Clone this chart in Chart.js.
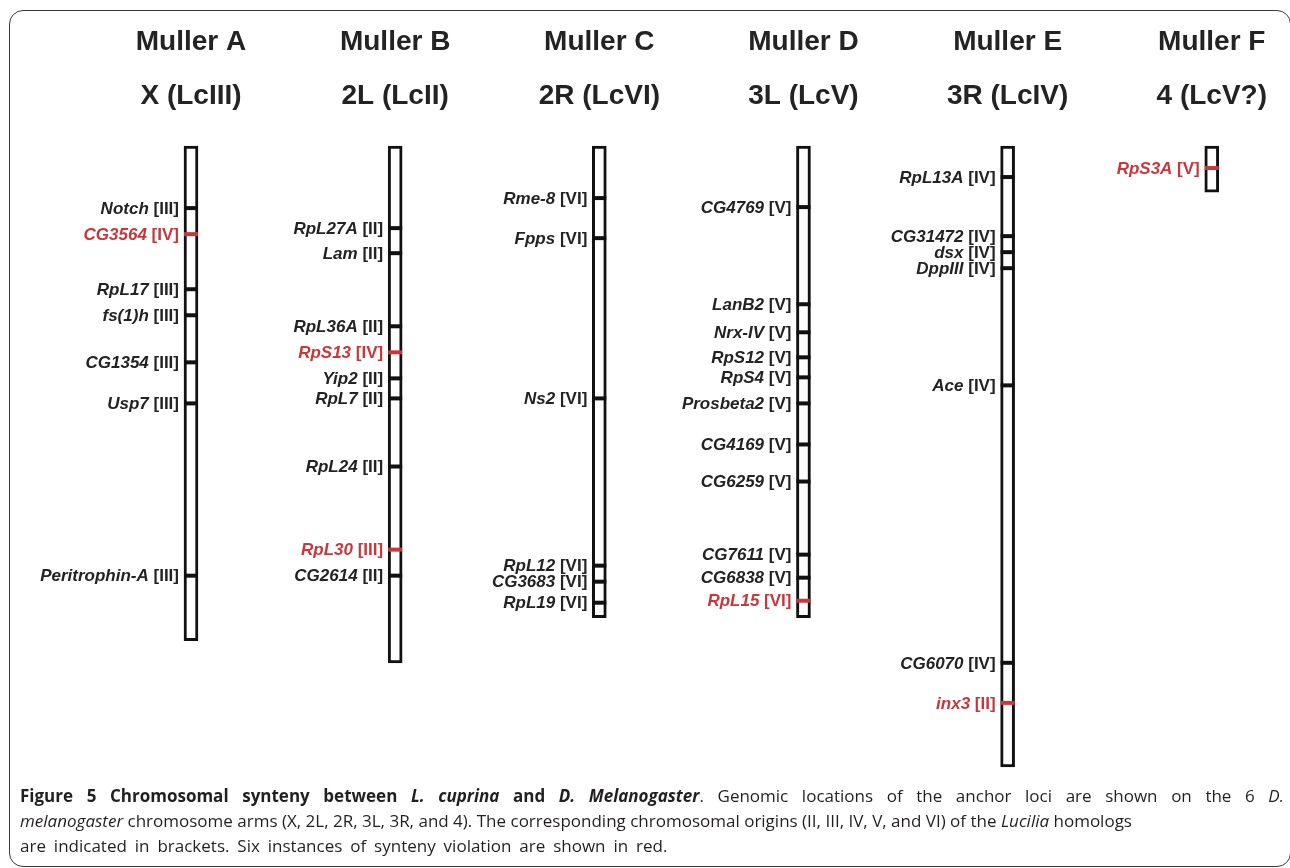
<!DOCTYPE html>
<html>
<head>
<meta charset="utf-8">
<script src="https://cdn.jsdelivr.net/npm/chart.js@4/dist/chart.umd.min.js"></script>
<style>
  html, body { margin: 0; padding: 0; background: #fff; }
  body { width: 1290px; height: 868px; position: relative; overflow: hidden; }
  #frame {
    position: absolute; left: 9px; top: 10px; width: 1280px; height: 855px;
    border: 1.5px solid #3a3a3a; border-radius: 14px;
  }
  #chart { position: absolute; left: 0; top: 0; }
  #caption {
    position: absolute; left: 20px; top: 783px; width: 1264px;
    font-family: "Open Sans", sans-serif; font-size: 17px; line-height: 25px; color: #231f20;
  }
  #caption div { white-space: nowrap; }
  #caption .fill { text-align: justify; text-align-last: justify; }
  #caption .last { word-spacing: 3.5px; }
</style>
</head>
<body>
<div id="frame"></div>
<canvas id="chart" width="1290" height="792"></canvas>
<div id="caption">
  <div class="fill"><b>Figure 5 Chromosomal synteny between <i>L. cuprina</i> and <i>D. Melanogaster</i></b>. Genomic locations of the anchor loci are shown on the 6 <i>D.</i></div>
  <div><i>melanogaster</i> chromosome arms (X, 2L, 2R, 3L, 3R, and 4). The corresponding chromosomal origins (II, III, IV, V, and VI) of the <i>Lucilia</i> homologs</div>
  <div class="last">are indicated in brackets. Six instances of synteny violation are shown in red.</div>
</div>
<script>
// Muller elements and their D. melanogaster arm (Lucilia chromosome)
const arms = ['Muller A', 'Muller B', 'Muller C', 'Muller D', 'Muller E', 'Muller F'];
const armNames = ['X (LcIII)', '2L (LcII)', '2R (LcVI)', '3L (LcV)', '3R (LcIV)', '4 (LcV?)'];
const armLengths = [494, 516, 471, 471, 620, 46];

// anchor loci, position measured from the top of each arm
const genesA = ['Notch', 'CG3564', 'RpL17', 'fs(1)h', 'CG1354', 'Usp7', 'Peritrophin-A'];
const posA = [62, 88, 143, 169, 216, 257, 429];
const originA = ['III', 'IV', 'III', 'III', 'III', 'III', 'III'];

const genesB = ['RpL27A', 'Lam', 'RpL36A', 'RpS13', 'Yip2', 'RpL7', 'RpL24', 'RpL30', 'CG2614'];
const posB = [82, 107, 180, 206, 232, 252, 320, 403, 429];
const originB = ['II', 'II', 'II', 'IV', 'II', 'II', 'II', 'III', 'II'];

const genesC = ['Rme-8', 'Fpps', 'Ns2', 'RpL12', 'CG3683', 'RpL19'];
const posC = [52, 92, 252, 419, 435, 456];
const originC = ['VI', 'VI', 'VI', 'VI', 'VI', 'VI'];

const genesD = ['CG4769', 'LanB2', 'Nrx-IV', 'RpS12', 'RpS4', 'Prosbeta2', 'CG4169', 'CG6259', 'CG7611', 'CG6838', 'RpL15'];
const posD = [61, 158, 186, 211, 231, 257, 298, 335, 408, 431, 454];
const originD = ['V', 'V', 'V', 'V', 'V', 'V', 'V', 'V', 'V', 'V', 'VI'];

const genesE = ['RpL13A', 'CG31472', 'dsx', 'DppIII', 'Ace', 'CG6070', 'inx3'];
const posE = [31, 90, 106, 122, 239, 516, 556];
const originE = ['IV', 'IV', 'IV', 'IV', 'IV', 'IV', 'II'];

const genesF = ['RpS3A'];
const posF = [22];
const originF = ['V'];

// the six synteny violations
const violations = ['CG3564', 'RpS13', 'RpL30', 'RpL15', 'inx3', 'RpS3A'];

const INK = '#232323';
const RED = '#c8373a';
const LABEL_FONT = '17px "Liberation Sans", Arial, sans-serif';

const perArm = [
    [genesA, posA, originA],
    [genesB, posB, originB],
    [genesC, posC, originC],
    [genesD, posD, originD],
    [genesE, posE, originE],
    [genesF, posF, originF]
];

const loci = [];
perArm.forEach(([genes, pos, origin], i) => {
    genes.forEach((g, j) => {
        loci.push({ x: arms[i], y: pos[j], gene: g, origin: origin[j] });
    });
});

// gene name (italic) + origin in brackets, right aligned left of the arm
const locusLabels = {
    id: 'locusLabels',
    afterDatasetsDraw(chart) {
        const ctx = chart.ctx;
        const meta = chart.getDatasetMeta(1);
        const data = chart.data.datasets[1].data;
        ctx.save();
        ctx.textBaseline = 'middle';
        ctx.textAlign = 'left';
        meta.data.forEach((pt, i) => {
            const d = data[i];
            const tag = ' [' + d.origin + ']';
            ctx.font = 'bold ' + LABEL_FONT;
            const wTag = ctx.measureText(tag).width;
            ctx.font = 'italic bold ' + LABEL_FONT;
            const wGene = ctx.measureText(d.gene).width;
            const right = pt.x - 12;
            ctx.fillStyle = violations.includes(d.gene) ? RED : INK;
            ctx.fillText(d.gene, right - wTag - wGene, pt.y + 1);
            ctx.font = 'bold ' + LABEL_FONT;
            ctx.fillText(tag, right - wTag, pt.y + 1);
        });
        ctx.restore();
    }
};

new Chart(document.getElementById('chart').getContext('2d'), {
    type: 'bar',
    data: {
        labels: arms,
        datasets: [
            {
                label: 'Chromosome arm',
                data: armLengths.map(l => [0, l]),
                backgroundColor: '#ffffff',
                borderColor: '#111111',
                borderWidth: 3,
                borderSkipped: false,
                barThickness: 14,
                clip: false,
                order: 2
            },
            {
                type: 'scatter',
                label: 'Anchor loci',
                data: loci,
                pointStyle: 'line',
                pointRadius: 7,
                pointHoverRadius: 7,
                pointBorderWidth: 4,
                pointBorderColor: loci.map(d => violations.includes(d.gene) ? RED : '#111111'),
                clip: false,
                order: 1
            }
        ]
    },
    options: {
        responsive: false,
        animation: false,
        devicePixelRatio: 1,
        layout: { padding: { left: 191, right: 75, top: 0, bottom: 0 } },
        plugins: {
            legend: { display: false },
            tooltip: { enabled: false }
        },
        scales: {
            x: {
                type: 'category',
                position: 'top',
                offset: false,
                grid: { display: false, drawTicks: false },
                border: { display: false },
                afterFit: scale => { scale.height = 146; },
                ticks: {
                    padding: 23,
                    maxRotation: 0,
                    autoSkip: false,
                    color: INK,
                    font: { family: '"Liberation Sans", Arial, sans-serif', size: 28, weight: 'bold', lineHeight: 1.93 },
                    callback: (v, i) => [arms[i], armNames[i]]
                }
            },
            y: {
                display: false,
                reverse: true,
                min: 0,
                max: 634
            }
        }
    },
    plugins: [locusLabels]
});
</script>
</body>
</html>
